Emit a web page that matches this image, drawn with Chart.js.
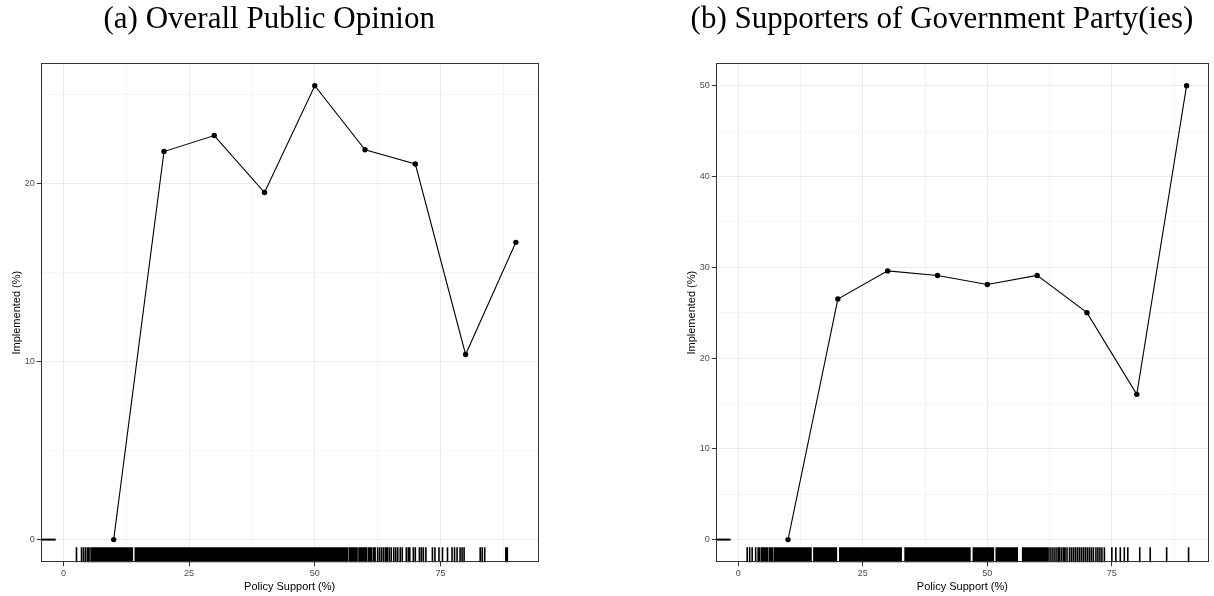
<!DOCTYPE html>
<html>
<head>
<meta charset="utf-8">
<title>Policy support and implementation</title>
<script src="https://cdn.jsdelivr.net/npm/chart.js@4.4.1/dist/chart.umd.min.js"></script>
<style>
  body { margin: 0; background: #fff; }
  #wrap { position: relative; width: 1214px; height: 596px; }
  canvas { position: absolute; top: 0; }
  #overall { left: 0; }
  #partisan { left: 675px; }
</style>
</head>
<body>
<div id="wrap">
  <canvas id="overall" width="560" height="596"></canvas>
  <canvas id="partisan" width="539" height="596"></canvas>
</div>
<script>
'use strict';

// support bins (%) and share of policies implemented in each bin (%)
var supportBins = [10, 20, 30, 40, 50, 60, 70, 80, 90];
var overallImplemented = [0, 21.8, 22.7, 19.5, 25.5, 21.9, 21.1, 10.4, 16.7];
var partisanImplemented = [0, 26.5, 29.6, 29.1, 28.1, 29.1, 25.0, 16.0, 50.0];

var xLimits = [0, 90];
var xMajor = [0, 25, 50, 75];
var xMinor = [12.5, 37.5, 62.5, 87.5];
var overallYMajor = [0, 10, 20];
var overallYMinor = [5, 15, 25];
var partisanYMajor = [0, 10, 20, 30, 40, 50];
var partisanYMinor = [5, 15, 25, 35, 45];

// one rug tick per policy: its level of support (%)
var overallRug = [
  2.6, 3.6, 4.0, 4.4, 4.8, 5.1, 5.5, 5.8, 6.1, 6.4, 6.6, 6.9, 7.1, 7.4, 7.6, 7.9, 8.1, 8.3, 8.6, 8.8,
  9.0, 9.3, 9.5, 9.7, 10.0, 10.2, 10.4, 10.7, 10.9, 11.1, 11.4, 11.6, 11.8, 12.1, 12.3, 12.5, 12.8, 13.0, 13.2, 13.5, 13.7,
  14.3, 14.5, 14.8, 15.0, 15.2, 15.5, 15.7, 16.0, 16.2, 16.4, 16.7, 16.9, 17.2, 17.4, 17.6, 17.9, 18.1, 18.4, 18.6, 18.8,
  19.1, 19.3, 19.6, 19.8, 20.0, 20.3, 20.5, 20.8, 21.0, 21.2, 21.5, 21.7, 22.0, 22.2, 22.4, 22.7, 22.9, 23.2, 23.4, 23.6,
  23.9, 24.1, 24.4, 24.6, 24.8, 25.1, 25.3, 25.6, 25.8, 26.0, 26.3, 26.5, 26.8, 27.0, 27.2, 27.5, 27.7, 28.0, 28.2, 28.4,
  28.7, 28.9, 29.2, 29.4, 29.6, 29.9, 30.1, 30.4, 30.6, 30.8, 31.1, 31.3, 31.6, 31.8, 32.0, 32.3, 32.5, 32.8, 33.0, 33.2,
  33.5, 33.7, 34.0, 34.2, 34.4, 34.7, 34.9, 35.2, 35.4, 35.6, 35.9, 36.1, 36.4, 36.6, 36.8, 37.1, 37.3, 37.6, 37.8, 38.0,
  38.3, 38.5, 38.8, 39.0, 39.2, 39.5, 39.7, 40.0, 40.2, 40.4, 40.7, 40.9, 41.2, 41.4, 41.6, 41.9, 42.1, 42.4, 42.6, 42.8,
  43.1, 43.3, 43.6, 43.8, 44.0, 44.3, 44.5, 44.8, 45.0, 45.2, 45.5, 45.7, 46.0, 46.2, 46.4, 46.7, 46.9, 47.2, 47.4, 47.6,
  47.9, 48.1, 48.4, 48.6, 48.8, 49.1, 49.3, 49.6, 49.8, 50.0, 50.3, 50.5, 50.8, 51.0, 51.2, 51.5, 51.7, 52.0, 52.2, 52.4,
  52.7, 52.9, 53.2, 53.4, 53.6, 53.9, 54.1, 54.4, 54.6, 54.8, 55.1, 55.3, 55.6, 55.8, 56.0, 56.3, 56.5,
  56.9, 57.2, 57.5, 57.8, 58.1, 58.4, 58.8, 59.1, 59.4, 59.7, 60.0, 60.3, 60.7, 61.0, 61.3, 61.7, 62.0,
  62.5, 62.9, 63.3, 63.7, 64.1, 64.4, 64.8, 65.2, 65.7, 66.1, 66.5, 67.0, 67.4,
  68.2, 68.6, 68.9, 69.6, 70.0, 70.8, 71.2, 71.6, 72.1,
  73.4, 73.9, 74.7, 75.4, 76.4, 77.3, 77.8, 78.3, 78.9, 79.3, 79.7, 82.9, 83.3, 83.8, 88.0, 88.3
];
var partisanRug = [
  1.8, 2.3, 2.8, 3.5, 4.0, 4.3, 4.7, 5.0, 5.3, 5.6, 5.9, 6.3, 6.6, 6.9, 7.3, 7.5,
  7.8, 8.0, 8.3, 8.5, 8.8, 9.0, 9.3, 9.5, 9.8, 10.0, 10.3, 10.5, 10.8, 11.0, 11.3, 11.5, 11.8, 12.0, 12.3, 12.5,
  12.8, 13.0, 13.3, 13.5, 13.8, 14.0, 14.3, 14.6,
  15.2, 15.4, 15.7, 15.9, 16.2, 16.4, 16.7, 16.9, 17.2, 17.4, 17.7, 17.9, 18.2, 18.4, 18.7, 18.9, 19.2, 19.4, 19.7,
  20.4, 20.6, 20.9, 21.1, 21.4, 21.6, 21.9, 22.1, 22.4, 22.6, 22.9, 23.1, 23.4, 23.6, 23.9, 24.1, 24.4, 24.6, 24.9,
  25.1, 25.4, 25.6, 25.9, 26.1, 26.4, 26.6, 26.9, 27.1, 27.4, 27.6, 27.9, 28.1, 28.4, 28.6, 28.9, 29.1, 29.4, 29.6,
  29.9, 30.1, 30.4, 30.6, 30.9, 31.1, 31.4, 31.6, 31.9, 32.1, 32.4, 32.7,
  33.5, 33.7, 34.0, 34.2, 34.5, 34.7, 35.0, 35.2, 35.5, 35.7, 36.0, 36.2, 36.5, 36.7, 37.0, 37.2, 37.5, 37.7, 38.0,
  38.2, 38.5, 38.7, 39.0, 39.2, 39.5, 39.7, 40.0, 40.2, 40.5, 40.7, 41.0, 41.2, 41.5, 41.7, 42.0, 42.2, 42.5, 42.7,
  43.0, 43.2, 43.5, 43.7, 44.0, 44.2, 44.5, 44.7, 45.0, 45.2, 45.5, 45.7, 46.0, 46.2, 46.5,
  47.2, 47.4, 47.7, 47.9, 48.2, 48.4, 48.7, 48.9, 49.2, 49.4, 49.7, 49.9, 50.2, 50.4, 50.7, 50.9, 51.2,
  51.8, 52.0, 52.3, 52.5, 52.8, 53.0, 53.3, 53.5, 53.8, 54.0, 54.3, 54.5, 54.8, 55.0, 55.3, 55.5, 55.8, 56.0,
  57.1, 57.4, 57.7, 58.0, 58.3, 58.6, 58.9, 59.2, 59.5, 59.8, 60.1, 60.4, 60.7, 61.0, 61.3, 61.6, 61.9, 62.2, 62.6,
  63.0, 63.4, 63.8, 64.2, 64.5, 64.9, 65.3, 65.6, 66.0, 66.5, 66.9, 67.3, 67.7,
  68.1, 68.5, 68.9, 69.3, 69.7, 70.1, 70.5, 70.9, 71.3, 71.8, 72.2, 72.6, 73.0, 73.5,
  75.0, 75.8, 76.7, 77.5, 78.2, 80.6, 82.7, 86.0, 90.4
];
// implementation outcome rug on the y axis: the zeros all stack on one mark
var implementedRug = [0];

Chart.defaults.font.family = '"Liberation Sans", Arial, sans-serif';

// ggplot-style 5% padding either side of the data range
function expand(lo, hi) {
  var pad = (hi - lo) * 0.05;
  return [lo - pad, hi + pad];
}

function isIn(list, v) {
  return list.indexOf(v) >= 0;
}

var rugPlugin = {
  id: 'rug',
  afterDatasetsDraw: function (chart, args, opts) {
    var ctx = chart.ctx, a = chart.chartArea;
    var xs = chart.scales.x, ys = chart.scales.y;
    var len = (a.bottom - a.top) * 0.03;
    var wid = (a.right - a.left) * 0.03;
    ctx.save();
    ctx.strokeStyle = '#000';
    ctx.lineWidth = 1.6;
    ctx.beginPath();
    opts.xValues.forEach(function (v) {
      var px = xs.getPixelForValue(v);
      ctx.moveTo(px, a.bottom);
      ctx.lineTo(px, a.bottom - len);
    });
    ctx.stroke();
    ctx.lineWidth = 2;
    ctx.beginPath();
    opts.yValues.forEach(function (v) {
      var py = ys.getPixelForValue(v);
      ctx.moveTo(a.left, py);
      ctx.lineTo(a.left + wid, py);
    });
    ctx.stroke();
    ctx.restore();
  }
};

var framePlugin = {
  id: 'frame',
  afterDraw: function (chart) {
    var ctx = chart.ctx, a = chart.chartArea;
    ctx.save();
    ctx.strokeStyle = '#333333';
    ctx.lineWidth = 1;
    var l = Math.round(a.left) + 0.5, t = Math.round(a.top) + 0.5;
    var r = Math.round(a.right) - 0.5, b = Math.round(a.bottom) - 0.5;
    ctx.strokeRect(l, t, r - l, b - t);
    ctx.restore();
  }
};

function axis(range, major, minor, label, pos) {
  var all = major.concat(minor).sort(function (p, q) { return p - q; });
  return {
    type: 'linear',
    position: pos,
    min: range[0],
    max: range[1],
    afterBuildTicks: function (s) {
      s.ticks = all.map(function (v) { return { value: v }; });
    },
    afterFit: function (s) {
      if (pos === 'bottom') s.height = 33.7;
      else s.width = 40.8;
    },
    ticks: {
      autoSkip: false,
      maxRotation: 0,
      padding: 2,
      color: '#4d4d4d',
      font: { size: 9 },
      callback: function (v) { return isIn(major, v) ? String(v) : ''; }
    },
    grid: {
      color: function (c) { return isIn(major, c.tick.value) ? '#ebebeb' : '#f4f4f4'; },
      lineWidth: 1,
      tickLength: 4,
      tickColor: function (c) { return isIn(major, c.tick.value) ? '#333333' : 'rgba(0,0,0,0)'; }
    },
    border: { display: false },
    title: {
      display: true,
      text: label,
      color: '#000',
      font: { size: 11 },
      padding: pos === 'bottom' ? { top: 0, bottom: 2.4 } : { top: 10, bottom: 0 }
    }
  };
}

function drawPanel(id, heading, values, yMajor, yMinor, rug, padRight) {
  var points = supportBins.map(function (b, i) { return { x: b, y: values[i] }; });
  var yTop = Math.max.apply(null, values);
  return new Chart(document.getElementById(id), {
    type: 'scatter',
    data: {
      datasets: [{
        data: points,
        showLine: true,
        tension: 0,
        borderColor: '#000',
        borderWidth: 1.1,
        pointRadius: 2.7,
        pointHoverRadius: 2.7,
        pointBackgroundColor: '#000',
        pointBorderWidth: 0
      }]
    },
    options: {
      responsive: false,
      animation: false,
      devicePixelRatio: 1,
      events: [],
      layout: { padding: { left: 0, top: 0, right: padRight, bottom: 0 } },
      scales: {
        x: axis(expand(xLimits[0], xLimits[1]), xMajor, xMinor, 'Policy Support (%)', 'bottom'),
        y: axis(expand(0, yTop), yMajor, yMinor, 'Implemented (%)', 'left')
      },
      plugins: {
        legend: { display: false },
        tooltip: { enabled: false },
        title: {
          display: true,
          text: heading,
          color: '#000',
          font: { family: '"Liberation Serif", "DejaVu Serif", serif', size: 31, weight: 'normal', lineHeight: 1.2 },
          padding: { top: 1.5, bottom: 24.3 }
        },
        rug: { xValues: rug, yValues: implementedRug }
      }
    },
    plugins: [rugPlugin, framePlugin]
  });
}

drawPanel('overall', '(a) Overall Public Opinion', overallImplemented,
  overallYMajor, overallYMinor, overallRug, 21.5);
drawPanel('partisan', '(b) Supporters of Government Party(ies)', partisanImplemented,
  partisanYMajor, partisanYMinor, partisanRug, 5);
</script>
</body>
</html>
